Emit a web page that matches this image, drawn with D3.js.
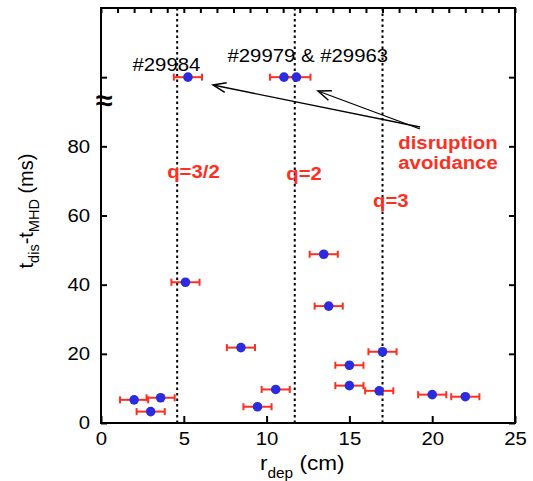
<!DOCTYPE html>
<html>
<head>
<meta charset="utf-8">
<script src="https://cdn.jsdelivr.net/npm/d3@7/dist/d3.min.js"></script>
<style>
  body { margin: 0; background: #fff; }
  svg { display: block; font-family: "Liberation Sans", Arial, Helvetica, sans-serif; }
</style>
</head>
<body>
<div id="graf"></div>
<script>
// data
const rdep  = [2.0, 3.6, 3.0, 5.1, 8.45, 9.45, 10.55, 13.45, 13.75, 15.0, 15.0, 16.8, 17.0, 20.0, 22.0]
const dtime = [6.7, 7.3, 3.3, 40.7, 21.8, 4.7, 9.7, 48.8, 33.8, 16.7, 10.8, 9.3, 20.6, 8.2, 7.6]
// shots where the disruption was avoided (plotted on the broken part of the axis)
const avoidR = [5.25, 11.05, 11.8]
const avoidLevel = 100
const xErr = 0.85
const qSurf = [4.6, 11.7, 17.0]
const qNames = ['q=3/2', 'q=2', 'q=3']
const xTicks = [0, 5, 10, 15, 20, 25]
const yTicks = [0, 20, 40, 60, 80, 100]

const W = 533, H = 481
const sx = 1.1   // the original lettering is a bit wide

const svg = d3.select('#graf').append('svg')
  .attr('width', W).attr('height', H)

const x = d3.scaleLinear().domain([0, 25]).range([101, 515])
const y = d3.scaleLinear().domain([0, 120]).range([423, 8])

const red = '#ff2f1f', blue = '#2b2bdf'

// helper for wide text
function label(parent, px, py, str, size, opts = {}) {
  return parent.append('text')
    .attr('transform', `translate(${px},${py}) scale(${sx},1)`)
    .attr('font-size', size)
    .attr('font-weight', opts.bold ? 'bold' : null)
    .attr('fill', opts.fill || '#000')
    .attr('text-anchor', opts.anchor || 'start')
    .text(str)
}

// dotted q surfaces
svg.append('g').selectAll('line').data(qSurf).join('line')
  .attr('x1', d => x(d)).attr('x2', d => x(d))
  .attr('y1', y(0)).attr('y2', y(120))
  .attr('stroke', '#000').attr('stroke-width', 2)
  .attr('stroke-dasharray', '2.5,3')

// axes
const gx = svg.append('g').attr('transform', `translate(0,${y(0)})`)
gx.call(d3.axisBottom(x).tickValues(d3.range(0, 26)).tickSize(-5).tickFormat(''))
gx.call(d3.axisBottom(x).tickValues(xTicks).tickSize(-7).tickPadding(9))
gx.selectAll('.domain').remove()

const gt = svg.append('g').attr('transform', `translate(0,${y(120)})`)
gt.call(d3.axisTop(x).tickValues(d3.range(0, 26)).tickSize(-5).tickFormat(''))
gt.selectAll('.domain').remove()

const gy = svg.append('g').attr('transform', `translate(${x(0)},0)`)
gy.call(d3.axisLeft(y).tickValues(yTicks).tickSize(-6).tickPadding(10)
  .tickFormat(d => d <= 80 ? d : ''))
gy.selectAll('.domain').remove()

const gr = svg.append('g').attr('transform', `translate(${x(25)},0)`)
gr.call(d3.axisRight(y).tickValues(yTicks).tickSize(-6).tickFormat(''))
gr.selectAll('.domain').remove()

svg.selectAll('.tick line').attr('stroke', '#000').attr('stroke-width', 2)
svg.selectAll('.tick text')
  .attr('font-size', 18.5)
  .attr('font-family', '"Liberation Sans", Arial, sans-serif')
  .attr('fill', '#000')
  .attr('transform', `scale(${sx},1)`)

// frame
svg.append('rect')
  .attr('x', x(0)).attr('y', y(120))
  .attr('width', x(25) - x(0)).attr('height', y(0) - y(120))
  .attr('fill', 'none').attr('stroke', '#000').attr('stroke-width', 2)

// axis break mark
label(svg, x(0) + 3, y(93) + 9, '\u2248', 28, { bold: true, anchor: 'middle' })

// points
const pts = rdep.map((r, i) => ({ r, t: dtime[i] }))
  .concat(avoidR.map(r => ({ r, t: avoidLevel })))

const gp = svg.append('g')
const bars = gp.selectAll('g.eb').data(pts).join('g').attr('class', 'eb')
  .attr('stroke', red).attr('stroke-width', 2)
bars.append('line')
  .attr('x1', d => x(d.r - xErr)).attr('x2', d => x(d.r + xErr))
  .attr('y1', d => y(d.t)).attr('y2', d => y(d.t))
bars.append('line')
  .attr('x1', d => x(d.r - xErr)).attr('x2', d => x(d.r - xErr))
  .attr('y1', d => y(d.t) - 3.5).attr('y2', d => y(d.t) + 3.5)
bars.append('line')
  .attr('x1', d => x(d.r + xErr)).attr('x2', d => x(d.r + xErr))
  .attr('y1', d => y(d.t) - 3.5).attr('y2', d => y(d.t) + 3.5)

gp.selectAll('circle').data(pts).join('circle')
  .attr('cx', d => x(d.r)).attr('cy', d => y(d.t))
  .attr('r', 4.8).attr('fill', blue)

// shot labels
label(svg, 132.5, 71, '#29984', 18.5)
label(svg, 227.5, 62, '#29979 & #29963', 18.5)

// q labels
const qPos = [[-10, 178], [-8.5, 180], [-9.5, 207]]
qSurf.forEach((q, i) => {
  label(svg, x(q) + qPos[i][0], qPos[i][1], qNames[i], 18.5, { bold: true, fill: red })
})

label(svg, 448, 149, 'disruption', 18.5, { bold: true, fill: red, anchor: 'middle' })
label(svg, 448, 168.5, 'avoidance', 18.5, { bold: true, fill: red, anchor: 'middle' })

// arrows
svg.append('defs').append('marker')
  .attr('id', 'ah').attr('markerUnits', 'userSpaceOnUse')
  .attr('viewBox', '-14 -7 16 14').attr('refX', 0).attr('refY', 0)
  .attr('markerWidth', 16).attr('markerHeight', 14).attr('orient', 'auto')
  .append('path').attr('d', 'M-13,-5 L0,0 L-13,5')
  .attr('fill', 'none').attr('stroke', '#000').attr('stroke-width', 1.5)

const arrows = [[420, 127, 213, 85], [420, 129, 318, 91]]
svg.append('g').selectAll('line').data(arrows).join('line')
  .attr('x1', d => d[0]).attr('y1', d => d[1])
  .attr('x2', d => d[2]).attr('y2', d => d[3])
  .attr('stroke', '#000').attr('stroke-width', 1.3)
  .attr('marker-end', 'url(#ah)')

// x axis title
const xt = svg.append('text')
  .attr('transform', `translate(260,470) scale(${sx},1)`)
  .attr('font-size', 20.5)
xt.append('tspan').text('r')
xt.append('tspan').attr('font-size', 14).attr('dy', 8).text('dep')
xt.append('tspan').attr('dy', -8).text(' (cm)')

// y axis title
const yt = svg.append('text')
  .attr('transform', 'translate(33,211) rotate(-90)')
  .attr('text-anchor', 'middle')
  .attr('font-size', 20)
yt.append('tspan').text('t')
yt.append('tspan').attr('font-size', 14.5).attr('dy', 6).text('dis')
yt.append('tspan').attr('dy', -6).text('-t')
yt.append('tspan').attr('font-size', 14.5).attr('dy', 6).text('MHD')
yt.append('tspan').attr('dy', -6).text(' (ms)')
</script>
</body>
</html>
